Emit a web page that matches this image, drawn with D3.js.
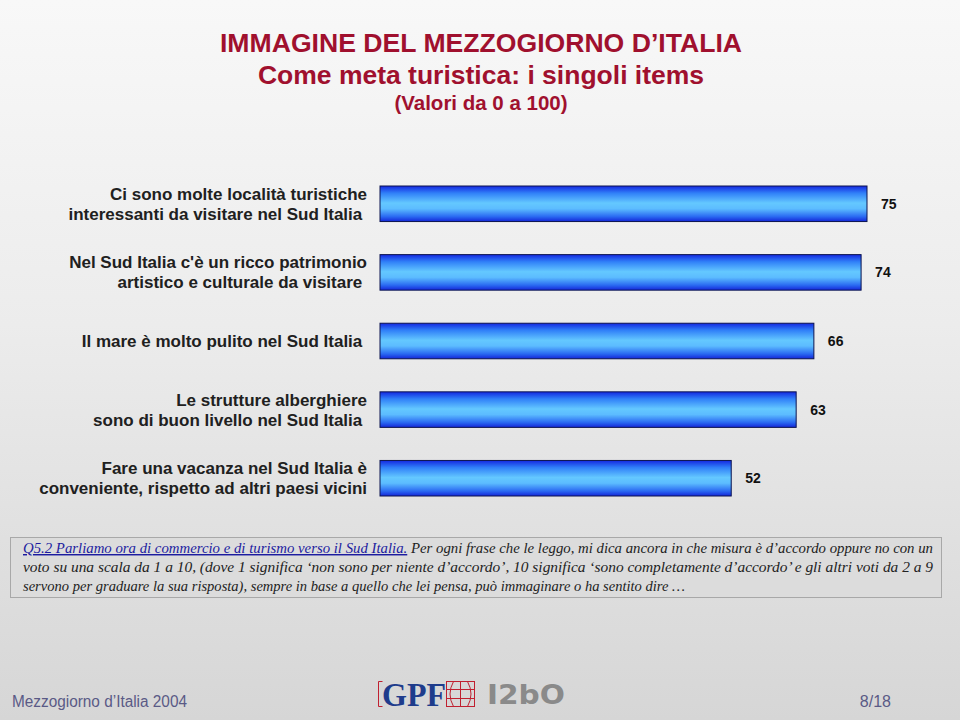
<!DOCTYPE html>
<html>
<head>
<meta charset="utf-8">
<script src="https://cdn.jsdelivr.net/npm/d3@7"></script>
<style>
  html, body { margin: 0; padding: 0; background: #fff; }
  svg { display: block; }
</style>
</head>
<body>
<div id="chart"></div>
<script>
// chart data
const categories = [
  ['Ci sono molte località turistiche', 'interessanti da visitare nel Sud Italia '],
  ["Nel Sud Italia c'è un ricco patrimonio", 'artistico e culturale da visitare '],
  ['Il mare è molto pulito nel Sud Italia '],
  ['Le strutture alberghiere', 'sono di buon livello nel Sud Italia '],
  ['Fare una vacanza nel Sud Italia è', 'conveniente, rispetto ad altri paesi vicini']
];
const values = [75, 74, 66, 63, 52];

const titleLines = ['IMMAGINE DEL MEZZOGIORNO D\u2019ITALIA', 'Come meta turistica: i singoli items'];
const subtitle = '(Valori da 0 a 100)';
const noteHead = 'Q5.2 Parliamo ora di commercio e di turismo verso il Sud Italia.';
const noteLines = [
  ' Per ogni frase che le leggo, mi dica ancora in che misura è d\u2019accordo oppure no con un',
  'voto su una scala da 1 a 10, (dove 1 significa \u2018non sono per niente d\u2019accordo\u2019, 10 significa \u2018sono completamente d\u2019accordo\u2019 e gli altri voti da 2 a 9',
  'servono per graduare la sua risposta), sempre in base a quello che lei pensa, può immaginare o ha sentito dire \u2026'
];
const footerLeft = 'Mezzogiorno d\u2019Italia 2004';
const footerRight = '8/18';

const W = 960, H = 720;
const svg = d3.select('#chart').append('svg')
    .attr('width', W)
    .attr('height', H)
    .style('font-family', '"Liberation Sans", Arial, sans-serif');

const defs = svg.append('defs');

// slide background
const bg = defs.append('linearGradient').attr('id', 'bg')
    .attr('x1', 0).attr('y1', 0).attr('x2', 0).attr('y2', 1);
bg.append('stop').attr('offset', '0%').attr('stop-color', '#f8f8f8');
bg.append('stop').attr('offset', '45%').attr('stop-color', '#ececec');
bg.append('stop').attr('offset', '100%').attr('stop-color', '#d6d6d6');

// bar fill: dark blue edges, light cyan middle
const bar = defs.append('linearGradient').attr('id', 'barFill')
    .attr('x1', 0).attr('y1', 0).attr('x2', 0).attr('y2', 1);
bar.append('stop').attr('offset', '0%').attr('stop-color', '#1428e0');
bar.append('stop').attr('offset', '20%').attr('stop-color', '#3080f8');
bar.append('stop').attr('offset', '48%').attr('stop-color', '#64c8ff');
bar.append('stop').attr('offset', '64%').attr('stop-color', '#5cbcff');
bar.append('stop').attr('offset', '86%').attr('stop-color', '#2a6af2');
bar.append('stop').attr('offset', '100%').attr('stop-color', '#1426d8');

svg.append('rect')
    .attr('x', 0).attr('y', 0)
    .attr('width', W).attr('height', H)
    .attr('fill', 'url(#bg)');

// titles
const titleG = svg.append('g').attr('text-anchor', 'middle').attr('fill', '#a0102e');
titleG.append('text')
    .attr('x', 481).attr('y', 52)
    .attr('font-size', 26.6).attr('font-weight', 'bold')
    .text(titleLines[0]);
titleG.append('text')
    .attr('x', 481).attr('y', 84)
    .attr('font-size', 26.5).attr('font-weight', 'bold')
    .text(titleLines[1]);
titleG.append('text')
    .attr('x', 481).attr('y', 110)
    .attr('font-size', 20.5).attr('font-weight', 'bold')
    .text(subtitle);

// scales
const x = d3.scaleLinear()
    .domain([-7.5, 75])
    .range([380, 867]);

const y = d3.scaleBand()
    .domain(d3.range(values.length))
    .range([186, 496])
    .paddingInner(0.482)
    .paddingOuter(0);

const chart = svg.append('g');

chart.selectAll('.bar')
    .data(values)
  .join('rect')
    .attr('class', 'bar')
    .attr('x', x.range()[0])
    .attr('y', (d, i) => y(i))
    .attr('width', d => x(d) - x.range()[0])
    .attr('height', y.bandwidth())
    .attr('fill', 'url(#barFill)')
    .attr('stroke', '#0c1450')
    .attr('stroke-width', 1);

chart.selectAll('.value')
    .data(values)
  .join('text')
    .attr('class', 'value')
    .attr('x', d => x(d) + 14)
    .attr('y', (d, i) => y(i) + y.bandwidth() / 2 + 5)
    .attr('font-size', 14)
    .attr('font-weight', 'bold')
    .attr('fill', '#111')
    .text(d => d);

// category labels
const labels = chart.selectAll('.cat')
    .data(categories)
  .join('text')
    .attr('class', 'cat')
    .attr('text-anchor', 'end')
    .attr('font-size', 17)
    .attr('font-weight', 'bold')
    .attr('fill', '#202020')
    .attr('y', (d, i) => y(i) + y.bandwidth() / 2);

labels.selectAll('tspan')
    .data(d => d.map((t, k) => ({t, k, n: d.length})))
  .join('tspan')
    .attr('x', 367)
    .attr('dy', d => d.k === 0 ? (d.n === 1 ? 6 : -4) : 20)
    .style('white-space', 'pre')
    .text(d => d.t);

// question note box
svg.append('rect')
    .attr('x', 10.5).attr('y', 537.5)
    .attr('width', 931).attr('height', 60)
    .attr('fill', '#dcdcdc')
    .attr('stroke', '#a8a8a8');

const note = svg.append('g')
    .style('font-family', '"Liberation Serif", "Times New Roman", serif')
    .style('font-style', 'italic')
    .attr('font-size', 14.5)
    .attr('fill', '#222');

const l1 = note.append('text')
    .attr('x', 23).attr('y', 553)
    .attr('textLength', 910).attr('lengthAdjust', 'spacingAndGlyphs');
l1.append('tspan')
    .attr('fill', '#1c1ca0')
    .attr('text-decoration', 'underline')
    .text(noteHead);
l1.append('tspan').style('white-space', 'pre').text(noteLines[0]);

note.append('text')
    .attr('x', 23).attr('y', 572)
    .attr('textLength', 910).attr('lengthAdjust', 'spacingAndGlyphs')
    .text(noteLines[1]);

note.append('text')
    .attr('x', 23).attr('y', 591)
    .attr('textLength', 662).attr('lengthAdjust', 'spacingAndGlyphs')
    .text(noteLines[2]);

// footer
svg.append('text')
    .attr('x', 12).attr('y', 707)
    .attr('font-size', 16)
    .attr('fill', '#5a5a86')
    .attr('textLength', 175).attr('lengthAdjust', 'spacingAndGlyphs')
    .text(footerLeft);

svg.append('text')
    .attr('x', 891).attr('y', 707)
    .attr('text-anchor', 'end')
    .attr('font-size', 16)
    .attr('fill', '#5a5a86')
    .text(footerRight);

// logos
const logo = svg.append('g');
logo.append('path')
    .attr('d', 'M382.5,681.5 h-4 v25 h4')
    .attr('fill', 'none').attr('stroke', '#c02030').attr('stroke-width', 1);
logo.append('text')
    .attr('x', 382).attr('y', 706)
    .style('font-family', '"Liberation Serif", "Times New Roman", serif')
    .attr('font-size', 34).attr('font-weight', 'bold')
    .attr('fill', '#1e3c8c')
    .attr('textLength', 64).attr('lengthAdjust', 'spacingAndGlyphs')
    .text('GPF');
const grid = logo.append('g')
    .attr('fill', 'none').attr('stroke', '#c02030').attr('stroke-width', 1);
grid.append('rect').attr('x', 446.5).attr('y', 681.5).attr('width', 28).attr('height', 25);
grid.append('line').attr('x1', 460.5).attr('x2', 460.5).attr('y1', 681.5).attr('y2', 706.5);
grid.append('line').attr('x1', 446.5).attr('x2', 474.5).attr('y1', 689.5).attr('y2', 689.5);
grid.append('line').attr('x1', 446.5).attr('x2', 474.5).attr('y1', 698.5).attr('y2', 698.5);
grid.append('path').attr('d', 'M453.5,681.5 q-7,12.5 0,25 M467.5,681.5 q7,12.5 0,25');

logo.append('text')
    .attr('x', 487).attr('y', 704)
    .style('font-family', '"DejaVu Sans", sans-serif')
    .attr('font-size', 27).attr('font-weight', 'bold')
    .attr('fill', '#8a8a8a')
    .attr('textLength', 78).attr('lengthAdjust', 'spacingAndGlyphs')
    .text('I2bO');
</script>
</body>
</html>
